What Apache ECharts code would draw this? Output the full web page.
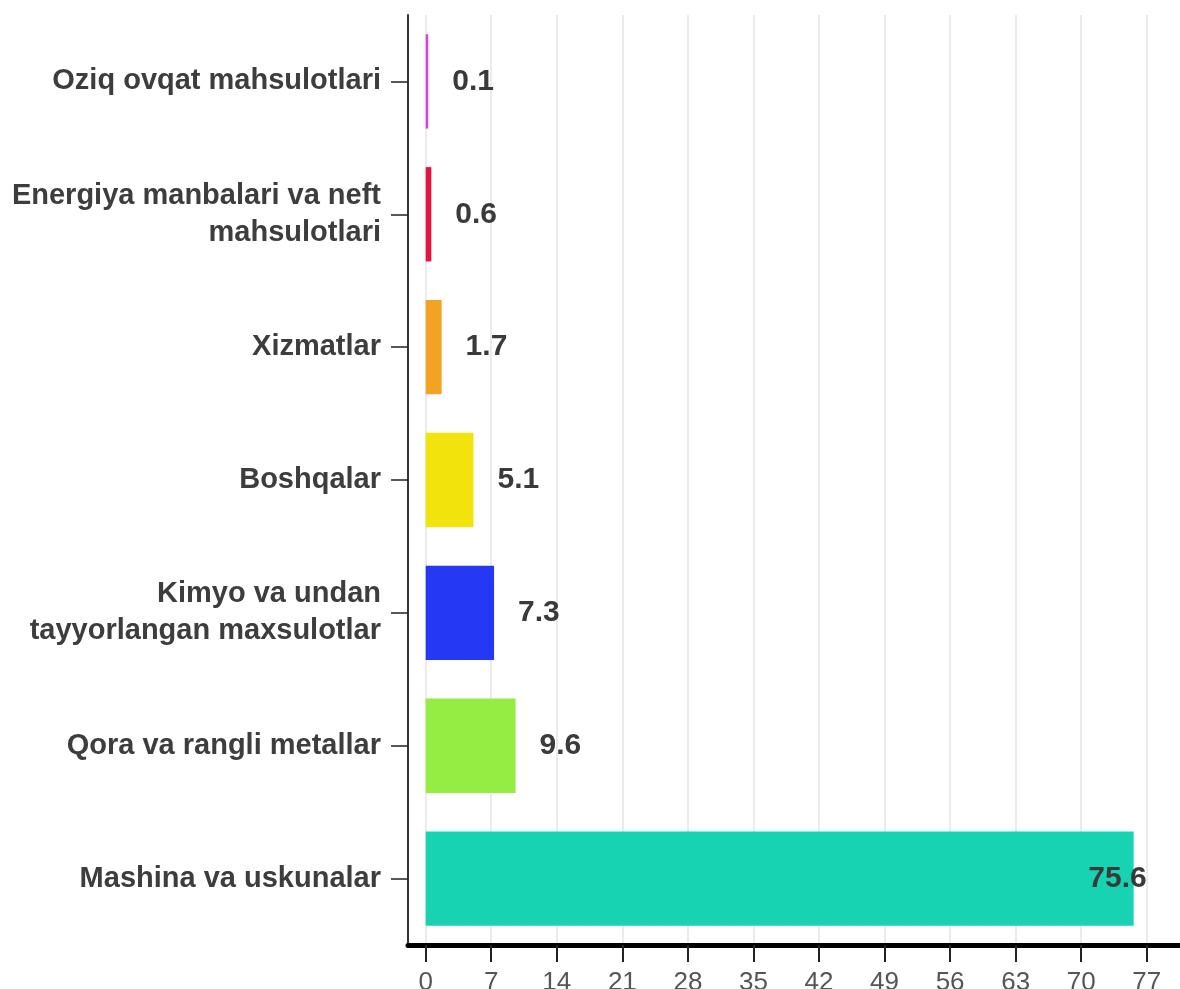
<!DOCTYPE html>
<html>
<head>
<meta charset="utf-8">
<script src="https://cdn.jsdelivr.net/npm/echarts@6/dist/echarts.min.js"></script>
<style>
html,body{margin:0;padding:0;background:#fff;}
#chart{width:1180px;height:989px;}
</style>
</head>
<body>
<div id="chart"></div>
<script>
// categories, top to bottom
var categories = [
  "Oziq ovqat mahsulotlari",
  "Energiya manbalari va neft\nmahsulotlari",
  "Xizmatlar",
  "Boshqalar",
  "Kimyo va undan\ntayyorlangan maxsulotlar",
  "Qora va rangli metallar",
  "Mashina va uskunalar"
];
var values = [0.1, 0.6, 1.7, 5.1, 7.3, 9.6, 75.6];
var barColors = ["#dd3cf0", "#e8123f", "#f4a223", "#f3e30c", "#2539f5", "#95ec42", "#18d3b1"];
var tickValues = [0, 7, 14, 21, 28, 35, 42, 49, 56, 63, 70, 77];

var FONT = '"Liberation Sans", Arial, sans-serif';

var data = values.map(function (v, i) {
  var d = { value: v, itemStyle: { color: barColors[i] } };
  if (v > 50) {
    d.label = { position: 'insideRight', distance: 0, offset: [13, 0] };
  }
  return d;
});

var chart = echarts.init(document.getElementById('chart'));
chart.setOption({
  animation: false,
  backgroundColor: '#fff',
  grid: { left: 408, right: 0, top: 15, bottom: 44, containLabel: false, outerBoundsMode: 'none' },
  xAxis: {
    type: 'value',
    min: -1.89,
    max: 80.55,
    axisLine: { show: true, onZero: false, lineStyle: { color: '#000', width: 5 } },
    axisTick: { show: true, length: 17, lineStyle: { color: '#222', width: 2 }, customValues: tickValues },
    axisLabel: { customValues: tickValues, margin: 25, color: '#555', fontSize: 26, fontFamily: FONT },
    splitLine: { show: true, lineStyle: { color: '#e4e4e4', width: 1.5 } }
  },
  yAxis: {
    type: 'category',
    inverse: true,
    data: categories,
    axisLine: { show: true, onZero: false, lineStyle: { color: '#333', width: 2 } },
    axisTick: { show: true, alignWithLabel: true, length: 17, lineStyle: { color: '#222', width: 1.5 } },
    axisLabel: { margin: 27, color: '#3d3d3d', fontSize: 29, fontWeight: 'bold', fontFamily: FONT, lineHeight: 37, align: 'right', padding: [4, 0, 0, 0] },
    splitLine: { show: false }
  },
  series: [{
    type: 'bar',
    data: data,
    barCategoryGap: '29%',
    barMinHeight: 2.5,
    label: {
      show: true,
      position: 'right',
      distance: 24,
      color: '#3a3a3a',
      fontSize: 30,
      fontWeight: 'bold',
      fontFamily: FONT,
      padding: [4, 0, 0, 0]
    }
  }]
});
</script>
</body>
</html>
